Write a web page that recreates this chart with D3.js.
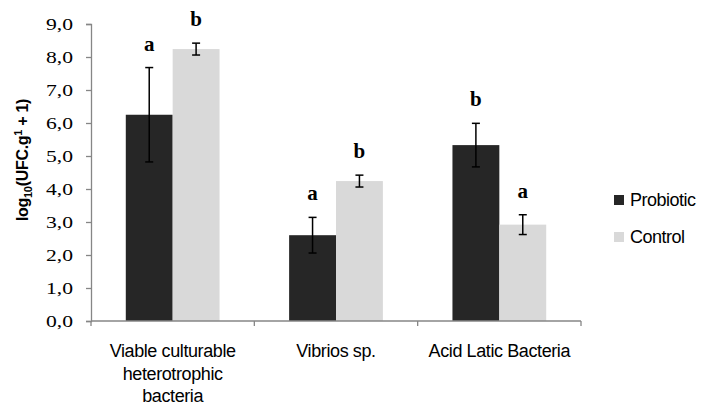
<!DOCTYPE html>
<html>
<head>
<meta charset="utf-8">
<script src="https://cdn.jsdelivr.net/npm/d3@7"></script>
<style>
  body { margin: 0; background: #fff; }
  svg { display: block; }
</style>
</head>
<body>
<svg id="chart" width="706" height="407"></svg>
<script>
// data
const categories = ['Viable culturable heterotrophic bacteria', 'Vibrios sp.', 'Acid Latic Bacteria'];
const categoryLines = [['Viable culturable', 'heterotrophic', 'bacteria'], ['Vibrios sp.'], ['Acid Latic Bacteria']];
const seriesNames = ['Probiotic', 'Control'];
const probioticMeans = [6.25, 2.60, 5.33];
const probioticErrors = [1.43, 0.54, 0.66];
const controlMeans = [8.24, 4.24, 2.92];
const controlErrors = [0.18, 0.18, 0.30];
const probioticLetters = ['a', 'a', 'b'];
const controlLetters = ['b', 'b', 'a'];
const yTicks = [0, 1, 2, 3, 4, 5, 6, 7, 8, 9];

const colors = { Probiotic: '#262626', Control: '#d9d9d9' };
const serif = '"Liberation Serif", "Times New Roman", serif';
const sans = '"Liberation Sans", Arial, sans-serif';

const svg = d3.select('#chart');
const margin = { left: 91, right: 125, top: 24, bottom: 86 };
const width = 706 - margin.left - margin.right;
const height = 407 - margin.top - margin.bottom;

const g = svg.append('g').attr('transform', `translate(${margin.left},${margin.top})`);

const x = d3.scaleBand().domain(categories).range([0, width]).paddingInner(0).paddingOuter(0);
const xSeries = d3.scaleBand().domain(seriesNames).range([x.bandwidth() * 0.213, x.bandwidth() * 0.787]);
const y = d3.scaleLinear().domain([0, 9]).range([height, 0]);

// y axis (tick labels are stretched horizontally like the original export)
const stretch = 1.35;
const yAxis = g.append('g')
  .call(d3.axisLeft(y).tickValues(yTicks).tickSize(5)
    .tickFormat(d => d3.format('.1f')(d).replace('.', ',')));
yAxis.select('.domain').attr('stroke', '#868686').attr('stroke-width', 1.3);
yAxis.selectAll('.tick line').attr('stroke', '#868686').attr('stroke-width', 1.3);
yAxis.selectAll('.tick text')
  .attr('fill', '#000')
  .attr('x', -18 / stretch)
  .attr('transform', `scale(${stretch},1)`)
  .style('font-family', serif)
  .style('font-size', '16px');

// rows of data
const rows = categories.map((c, i) => [
  { cat: c, series: 'Probiotic', value: probioticMeans[i], err: probioticErrors[i], letter: probioticLetters[i] },
  { cat: c, series: 'Control', value: controlMeans[i], err: controlErrors[i], letter: controlLetters[i] }
]).flat();

// bars
g.selectAll('rect.bar')
  .data(rows)
  .enter()
  .append('rect')
  .attr('class', 'bar')
  .attr('x', d => x(d.cat) + xSeries(d.series))
  .attr('y', d => y(d.value))
  .attr('width', xSeries.bandwidth())
  .attr('height', d => height - y(d.value))
  .attr('fill', d => colors[d.series]);

// error bars
const errG = g.selectAll('g.err')
  .data(rows)
  .enter()
  .append('g')
  .attr('class', 'err')
  .attr('stroke', '#000')
  .attr('stroke-width', 1.5);
const cx = d => x(d.cat) + xSeries(d.series) + xSeries.bandwidth() / 2;
errG.append('line')
  .attr('x1', cx).attr('x2', cx)
  .attr('y1', d => y(d.value + d.err)).attr('y2', d => y(d.value - d.err));
errG.append('line')
  .attr('x1', d => cx(d) - 4).attr('x2', d => cx(d) + 4)
  .attr('y1', d => y(d.value + d.err)).attr('y2', d => y(d.value + d.err));
errG.append('line')
  .attr('x1', d => cx(d) - 4).attr('x2', d => cx(d) + 4)
  .attr('y1', d => y(d.value - d.err)).attr('y2', d => y(d.value - d.err));

// significance letters
g.selectAll('text.letter')
  .data(rows)
  .enter()
  .append('text')
  .attr('class', 'letter')
  .attr('x', cx)
  .attr('y', d => y(d.value + d.err) - 17)
  .attr('text-anchor', 'middle')
  .style('font-family', serif)
  .style('font-weight', 'bold')
  .style('font-size', '21px')
  .text(d => d.letter);

// x axis
const xAxisG = g.append('g').attr('transform', `translate(0,${height})`);
xAxisG.append('line')
  .attr('x1', 0).attr('x2', width)
  .attr('stroke', '#868686').attr('stroke-width', 1.3);
xAxisG.selectAll('line.tick')
  .data(d3.range(categories.length + 1))
  .enter()
  .append('line')
  .attr('class', 'tick')
  .attr('x1', i => i * x.bandwidth()).attr('x2', i => i * x.bandwidth())
  .attr('y1', 0).attr('y2', 5)
  .attr('stroke', '#868686').attr('stroke-width', 1.3);
xAxisG.selectAll('text.cat')
  .data(categories)
  .enter()
  .append('text')
  .attr('class', 'cat')
  .attr('x', d => x(d) + x.bandwidth() / 2)
  .attr('y', 36)
  .attr('text-anchor', 'middle')
  .style('font-family', sans)
  .style('font-size', '18px')
  .style('letter-spacing', '-0.4px')
  .each(function(d, i) {
    const t = d3.select(this);
    categoryLines[i].forEach((line, j) => {
      t.append('tspan')
        .attr('x', x(d) + x.bandwidth() / 2)
        .attr('dy', j === 0 ? 0 : 22.5)
        .text(line);
    });
  });

// y axis title
const title = svg.append('text')
  .attr('transform', `translate(28,160) rotate(-90)`)
  .attr('text-anchor', 'middle')
  .style('font-family', sans)
  .style('font-weight', 'bold')
  .style('font-size', '16px')
  .style('letter-spacing', '-0.3px');
title.append('tspan').text('log');
title.append('tspan').attr('dy', 4).style('font-size', '11px').text('10');
title.append('tspan').attr('dy', -4).text('(UFC.g');
title.append('tspan').attr('dy', -6).style('font-size', '11px').text('1');
title.append('tspan').attr('dy', 6).text(' + 1)');

// legend
const legend = svg.append('g').attr('transform', 'translate(614,195)');
const legendItems = legend.selectAll('g')
  .data(seriesNames)
  .enter()
  .append('g')
  .attr('transform', (d, i) => `translate(0,${i * 37})`);
legendItems.append('rect')
  .attr('width', 10).attr('height', 10)
  .attr('fill', d => colors[d]);
legendItems.append('text')
  .attr('x', 16).attr('y', 11)
  .style('font-family', sans)
  .style('font-size', '18px')
  .style('letter-spacing', '-0.5px')
  .text(d => d);
</script>
</body>
</html>
